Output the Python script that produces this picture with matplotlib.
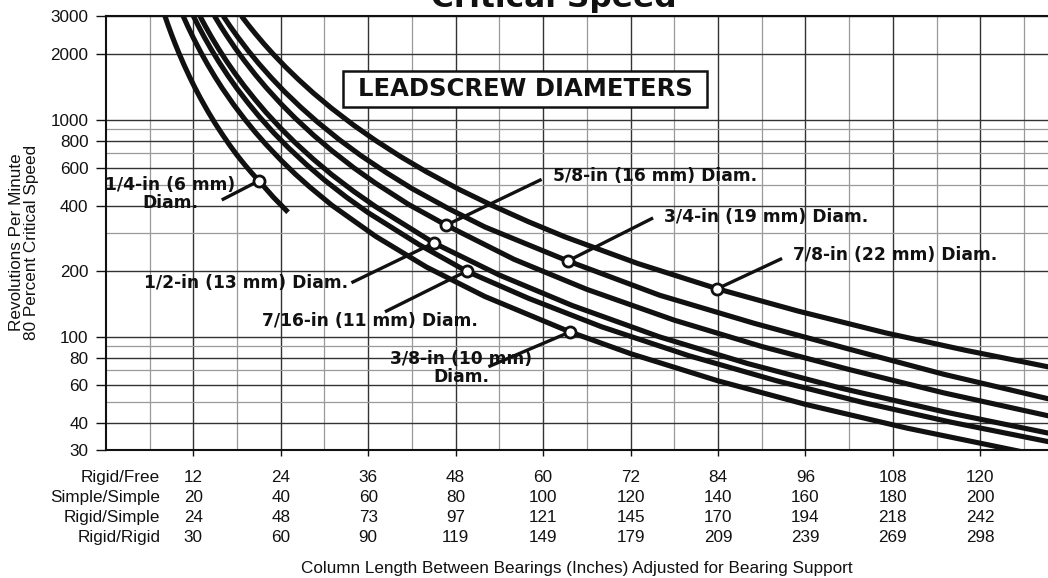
import numpy as np
import matplotlib
matplotlib.use("Agg")
import matplotlib.pyplot as plt
from matplotlib.patches import Rectangle

# column length tick rows (inches) for each end-support condition
row_names = ["Rigid/Free", "Simple/Simple", "Rigid/Simple", "Rigid/Rigid"]
rigid_free = [12, 24, 36, 48, 60, 72, 84, 96, 108, 120]
simple_simple = [20, 40, 60, 80, 100, 120, 140, 160, 180, 200]
rigid_simple = [24, 48, 73, 97, 121, 145, 170, 194, 218, 242]
rigid_rigid = [30, 60, 90, 119, 149, 179, 209, 239, 269, 298]

rpm_ticks = [30, 40, 60, 80, 100, 200, 400, 600, 800, 1000, 2000, 3000]
rpm_light = [50, 70, 90, 300, 500, 700, 900]

# curves: Rigid/Free length vs rpm
d14_len = [8.1, 8.5, 9, 9.5, 10, 10.7, 11.5, 12.2, 13, 14, 15, 16, 17, 18, 19, 20, 21, 23, 25]
d14_rpm = [3000, 2744, 2469, 2234, 2032, 1793, 1569, 1406, 1250, 1090, 959, 852, 761, 685,
           622, 568, 522, 438, 374]

d38_len = [10.6, 11.2, 12, 13, 14, 15, 16, 17.5, 19, 20.5, 22, 24, 26, 28, 31, 37, 44, 52,
           63.7, 72, 84, 96, 110, 125.6]
d38_rpm = [3000, 2706, 2379, 2048, 1783, 1567, 1389, 1175, 1008, 874, 766, 651, 560, 488,
           403, 290, 209, 153, 105, 83.4, 62.5, 48.7, 37.8, 29.5]

d716_len = [12, 12.7, 13.5, 14.5, 15.5, 16.7, 18, 19.5, 21, 23, 25, 27.5, 30, 33, 36, 43,
            49.5, 58, 68, 80, 92, 104, 116, 129.5]
d716_rpm = [3000, 2694, 2399, 2094, 1845, 1601, 1388, 1193, 1036, 871, 744, 621, 526, 439,
            372, 265, 200, 150, 111, 81.6, 62.6, 49.6, 40.3, 32.7]

d12_len = [12.9, 13.6, 14.5, 15.5, 16.5, 17.7, 19, 20.5, 22, 24, 26, 28.5, 31, 34, 37, 45,
           54, 64, 76, 88, 101, 115, 129.5]
d12_rpm = [3000, 2711, 2397, 2109, 1870, 1634, 1426, 1233, 1076, 911, 781, 655, 557, 467,
           397, 270, 192, 139, 99.6, 75.2, 57.7, 45.0, 35.8]

d58_len = [14.9, 15.7, 16.5, 17.7, 19, 20.5, 22, 24, 26, 28.5, 31, 34, 37, 41.5, 46.7, 56,
           66, 78, 90, 102, 115, 129.5]
d58_rpm = [3000, 2709, 2459, 2144, 1868, 1610, 1403, 1184, 1013, 847, 719, 600, 509, 407,
           326, 227, 165, 119, 90, 70.5, 55.0, 43.0]

d34_len = [16.1, 17, 18, 19.5, 21, 22.7, 24.5, 26.7, 29, 32, 35, 38.5, 42, 47, 52, 63.4, 76,
           89, 102, 115, 129.5]
d34_rpm = [3000, 2704, 2425, 2081, 1807, 1558, 1346, 1143, 976, 809, 682, 569, 481, 389, 320,
           223, 155, 115, 87.5, 67.0, 51.5]

d78_len = [18.6, 19.5, 20.5, 21.7, 23, 24.7, 26.5, 28.5, 31, 34, 37, 40.5, 44, 48.5, 53, 58,
           63, 73, 83.9, 95, 107, 118, 129.5]
d78_rpm = [3000, 2740, 2489, 2231, 1996, 1740, 1521, 1322, 1125, 942, 801, 673, 574, 476, 402,
           338, 288, 217, 166, 131, 104, 86.4, 72.3]

# labels: text, marker point on curve, leader end, text anchor
labels = ["1/4-in (6 mm)\nDiam.", "3/8-in (10 mm)\nDiam.", "7/16-in (11 mm) Diam.",
          "1/2-in (13 mm) Diam.", "5/8-in (16 mm) Diam.", "3/4-in (19 mm) Diam.",
          "7/8-in (22 mm) Diam."]
mark_len = [21.0, 63.7, 49.5, 45.0, 46.7, 63.4, 83.9]
mark_rpm = [522, 105, 200, 270, 326, 223, 166]
lead_len = [15.9, 52.5, 38.3, 33.7, 59.8, 75.1, 92.8]
lead_rpm = [426, 72.6, 130, 177, 530, 352, 229]
text_len = [8.8, 48.75, 36.3, 33.2, 61.4, 76.6, 94.3]
text_rpm = [454, 71.6, 118, 176, 549, 355, 238]
text_ha = ["center", "center", "center", "right", "left", "left", "left"]

W, H = 1048, 578
fig = plt.figure(figsize=(W / 100, H / 100), dpi=100)
ax = fig.add_axes([105.9 / W, 1 - 450 / H, (W - 105.9) / W, 434 / H])

ax.set_yscale("log")
ax.set_xlim(0, 129.3)
ax.set_ylim(30, 3000)

# grid
for x in np.arange(6, 130, 6):
    if x % 12 == 0:
        ax.axvline(x, color="#333333", lw=1.0, zorder=0)
    else:
        ax.axvline(x, color="#999999", lw=0.9, zorder=0)
for y in rpm_ticks:
    ax.axhline(y, color="#333333", lw=1.0, zorder=0)
for y in rpm_light:
    ax.axhline(y, color="#999999", lw=0.9, zorder=0)

curve_kw = dict(color="#111111", lw=3.7, solid_capstyle="butt", solid_joinstyle="round", zorder=3)
for xs, ys in [(d14_len, d14_rpm), (d38_len, d38_rpm), (d716_len, d716_rpm),
               (d12_len, d12_rpm), (d58_len, d58_rpm), (d34_len, d34_rpm),
               (d78_len, d78_rpm)]:
    ax.plot(xs, ys, **curve_kw)

for i, lab in enumerate(labels):
    ax.plot([mark_len[i], lead_len[i]], [mark_rpm[i], lead_rpm[i]],
            color="#111111", lw=2.4, solid_capstyle="butt", zorder=3)
    ax.plot(mark_len[i], mark_rpm[i], "o", ms=8, mfc="white", mec="#111111", mew=2.0, zorder=4)
    ax.text(text_len[i], text_rpm[i], lab, ha=text_ha[i], va="center", ma="center",
            fontsize=12.3, fontweight="bold", family="DejaVu Sans", color="#111111",
            linespacing=0.95, zorder=5)

# legend box
ax.add_patch(Rectangle((0.2517, 0.790), 0.386, 0.083, transform=ax.transAxes,
                       facecolor="white", edgecolor="#111111", lw=1.8, zorder=5))
ax.text(0.4449, 0.8318, "LEADSCREW DIAMETERS", transform=ax.transAxes, ha="center", va="center",
        fontsize=17.5, fontweight="bold", family="DejaVu Sans", color="#111111", zorder=6)

# axes styling
ax.spines["right"].set_visible(False)
for s in ["left", "bottom", "top"]:
    ax.spines[s].set_linewidth(1.5)
    ax.spines[s].set_color("#111111")

ax.yaxis.set_major_locator(matplotlib.ticker.FixedLocator(rpm_ticks))
ax.yaxis.set_minor_locator(matplotlib.ticker.NullLocator())
ax.set_yticklabels([str(v) for v in rpm_ticks])
ax.tick_params(axis="y", length=7.5, width=1.0, pad=5, labelsize=12.3, colors="#111111")

cols = ["\n".join(str(r[i]) for r in [rigid_free, simple_simple, rigid_simple, rigid_rigid])
        for i in range(len(rigid_free))]
ax.set_xticks(rigid_free)
ax.set_xticklabels(cols, linespacing=1.4)
ax.tick_params(axis="x", length=4, width=1.0, pad=10.5, labelsize=12.3, colors="#111111")
for lab in ax.get_yticklabels() + ax.get_xticklabels():
    lab.set_family("Liberation Sans")

ax.annotate("\n".join(row_names), xy=(7.45, 0), xycoords=("data", "axes fraction"),
            xytext=(0, -14.5), textcoords="offset points", ha="right", va="top", ma="right",
            fontsize=12.3, family="Liberation Sans", linespacing=1.4, color="#111111")

fig.text(577 / W, 1 - 568 / H,
         "Column Length Between Bearings (Inches) Adjusted for Bearing Support",
         ha="center", va="center", fontsize=12.3, family="Liberation Sans", color="#111111")
fig.text(24 / W, 1 - 242 / H, "Revolutions Per Minute\n80 Percent Critical Speed",
         rotation=90, ha="center", va="center", ma="center", fontsize=12.3,
         family="Liberation Sans", linespacing=1.05, color="#111111")
# the title sits mostly above the top edge, as in the source image
fig.text(554 / W, 1 - 7 / H, "Critical Speed", ha="center", va="baseline",
         fontsize=22.5, fontweight="bold", family="DejaVu Sans", color="#111111")

fig.savefig("out.png", dpi=100)
